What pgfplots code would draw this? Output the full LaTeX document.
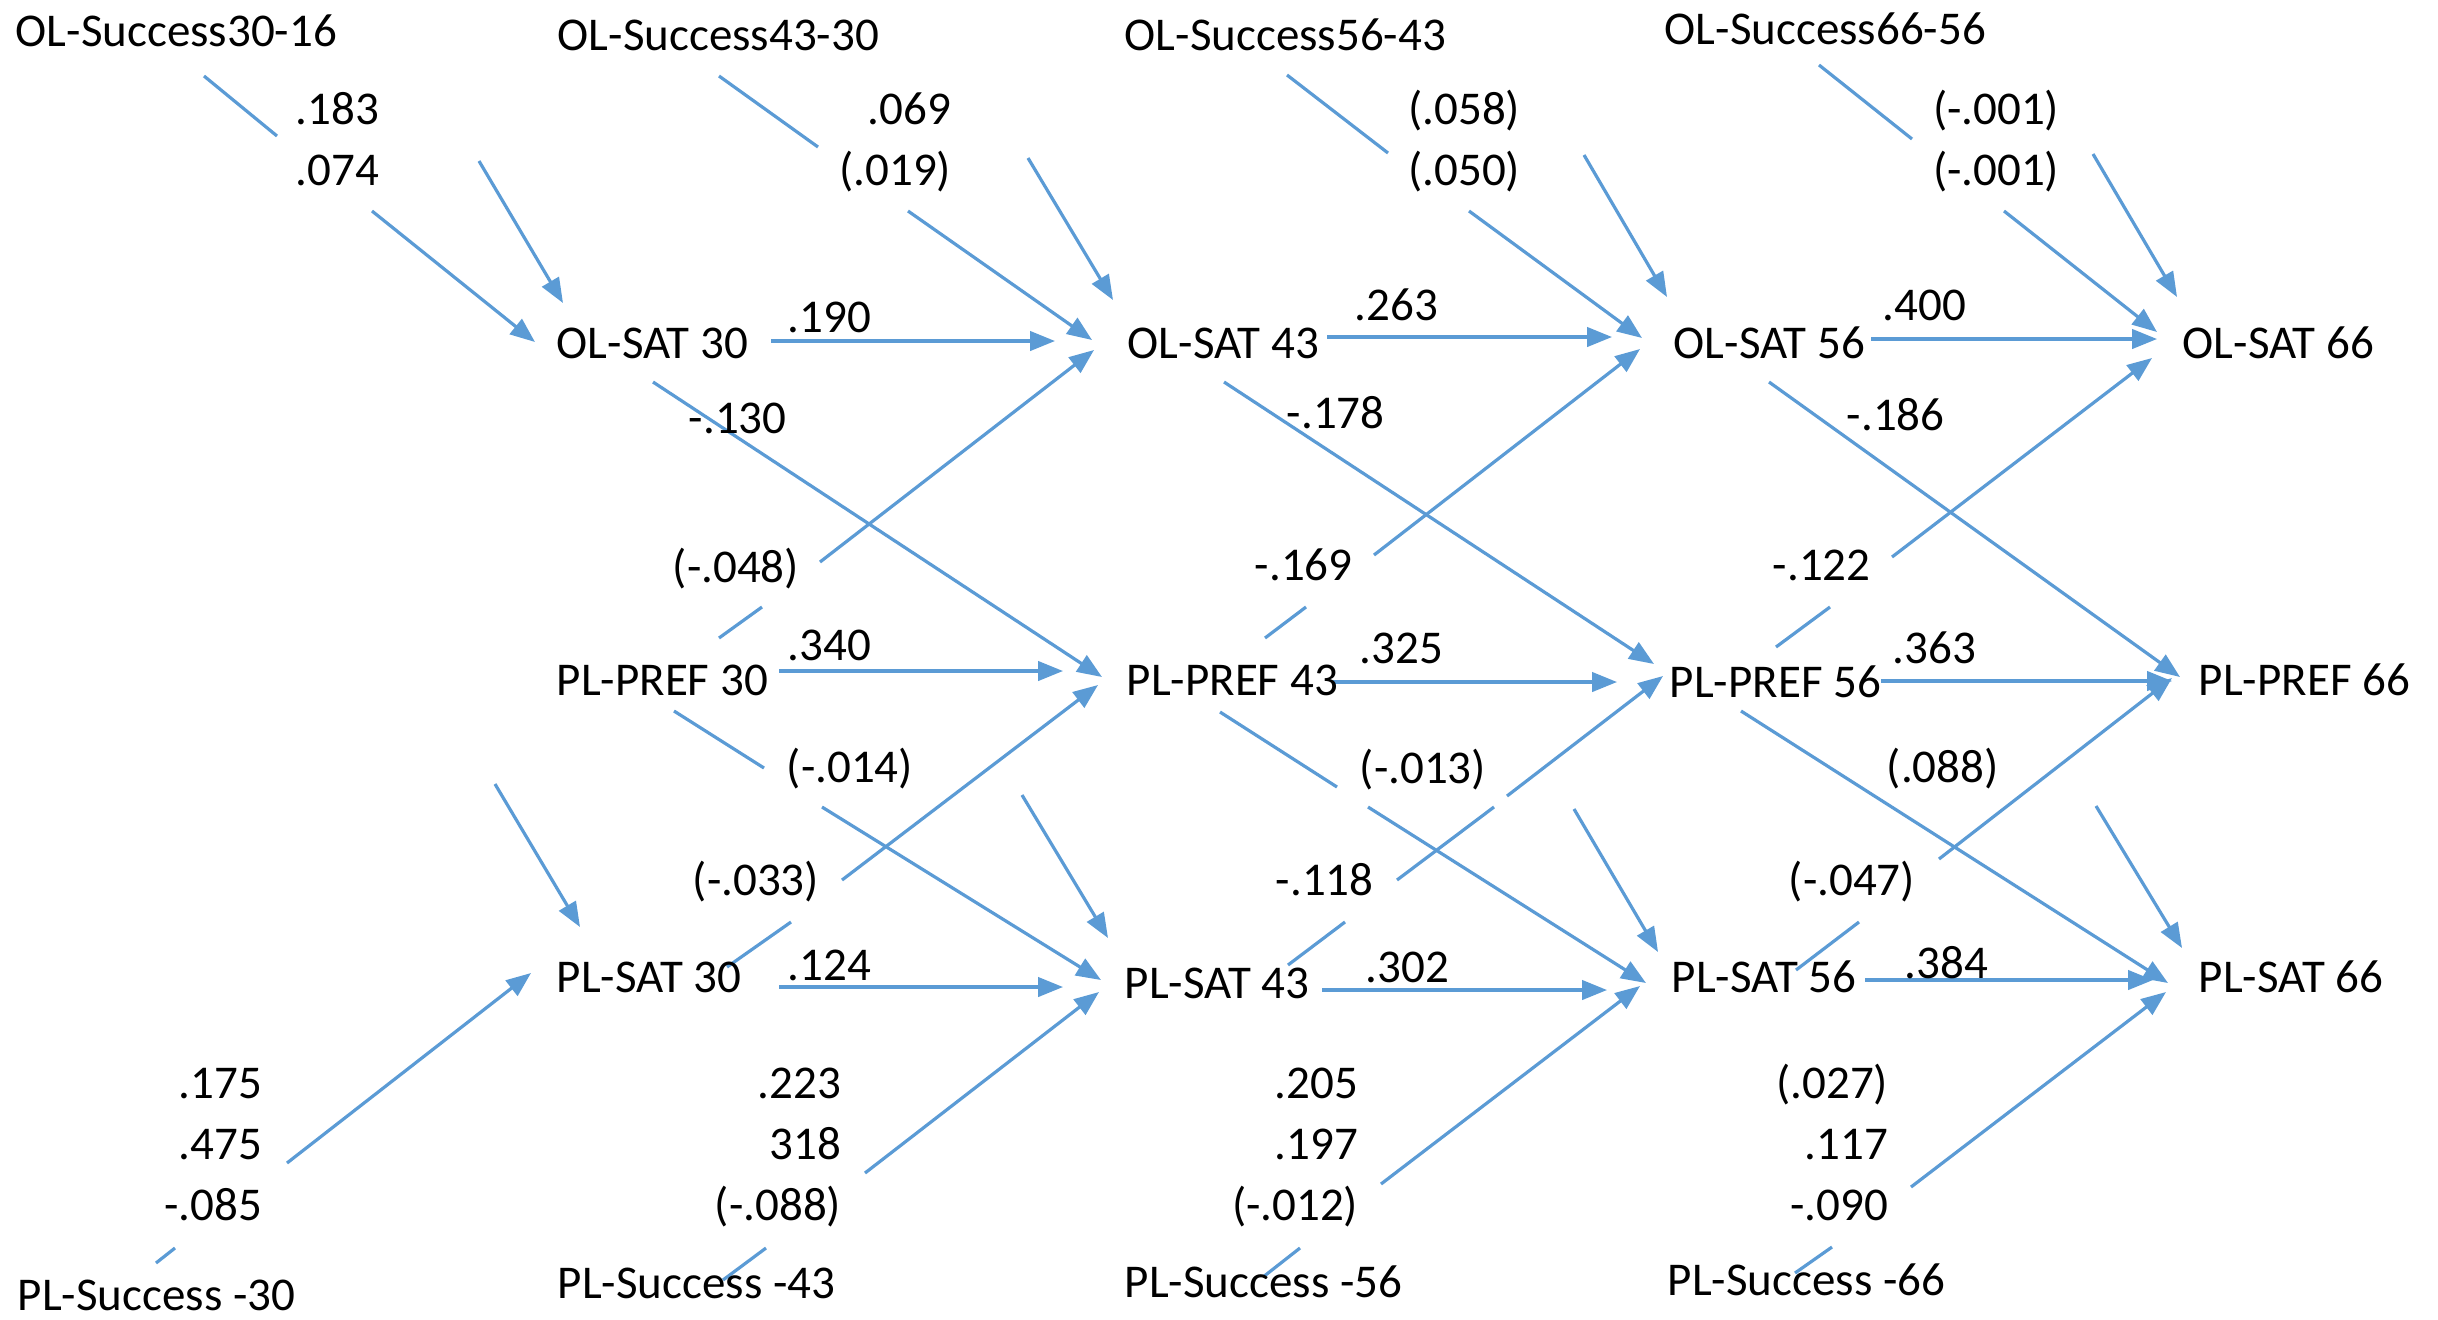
\documentclass[border=0pt]{standalone}
\usepackage{fontspec}
\setmainfont{Carlito}
\usepackage{pgfplots}
\pgfplotsset{compat=1.18}
\usetikzlibrary{arrows.meta}
\definecolor{pathblue}{HTML}{5B9BD5}
\newcommand{\seg}[4]{\addplot[pathblue, line width=0.8pt] coordinates {(#1,#2) (#3,#4)};}
\newcommand{\arr}[4]{\addplot[pathblue, line width=0.8pt, -{Triangle[length=6.2pt,width=4.8pt]}] coordinates {(#1,#2) (#3,#4)};}
\newcommand{\tl}[3]{\node[anchor=base west, inner sep=0pt, font=\fontsize{11.75}{14}\selectfont] at (axis cs:#1,#2) {#3};}
\newcommand{\tr}[3]{\node[anchor=base east, inner sep=0pt, font=\fontsize{11.75}{14}\selectfont] at (axis cs:#1,#2) {#3};}
\begin{document}
\begin{tikzpicture}
\begin{axis}[width=609.5pt, height=329.75pt, scale only axis, hide axis, clip=false,
  xmin=0, xmax=2438, ymin=0, ymax=1319, y dir=reverse]
% ---- lines from OL-Success to OL-SAT
\seg{204}{76}{277}{136}   \arr{372}{211}{535}{342}
\seg{719}{76}{818}{147}   \arr{908}{211}{1092}{340}
\seg{1287}{75}{1388}{153} \arr{1469}{211}{1642}{338}
\seg{1819}{65}{1912}{139} \arr{2004}{211}{2157}{332}
% ---- steep arrows into OL-SAT
\arr{479}{161}{563}{303}
\arr{1028}{158}{1113}{300}
\arr{1584}{155}{1667}{297}
\arr{2093}{154}{2177}{297}
% ---- horizontal OL-SAT row
\arr{771}{341}{1055}{341}
\arr{1327}{337}{1612}{337}
\arr{1871}{339}{2157}{339}
% ---- OL-SAT -> PL-PREF (next wave)
\arr{653}{382}{1102}{677}
\arr{1224}{382}{1654}{664}
\arr{1769}{382}{2180}{677}
% ---- PL-PREF -> OL-SAT (next wave)
\seg{719}{638}{762}{607}   \arr{820}{562}{1094}{350}
\seg{1265}{638}{1306}{607} \arr{1374}{555}{1640}{349}
\seg{1776}{647}{1830}{607} \arr{1892}{557}{2152}{358}
% ---- horizontal PL-PREF row
\arr{779}{671}{1063}{671}
\arr{1333}{682}{1617}{682}
\arr{1881}{681}{2172}{681}
% ---- PL-SAT -> PL-PREF (next wave)
\seg{727}{967}{791}{922}   \arr{842}{880}{1098}{685}
\seg{1288}{965}{1345}{922} \seg{1397}{880}{1494}{807} \arr{1507}{796}{1663}{676}
\seg{1796}{970}{1859}{922} \arr{1939}{859}{2172}{678}
% ---- PL-PREF -> PL-SAT (next wave)
\seg{674}{711}{764}{768}   \arr{822}{807}{1101}{980}
\seg{1220}{712}{1337}{787} \arr{1368}{807}{1646}{983}
\arr{1741}{711}{2168}{983}
% ---- steep arrows into PL-SAT
\arr{495}{784}{580}{927}
\arr{1022}{795}{1108}{938}
\arr{1574}{809}{1658}{952}
\arr{2096}{806}{2182}{948}
% ---- horizontal PL-SAT row
\arr{779}{987}{1063}{987}
\arr{1322}{990}{1607}{990}
\arr{1865}{980}{2153}{980}
% ---- PL-Success -> PL-SAT
\seg{156}{1263}{175}{1248}   \arr{287}{1163}{531}{973}
\seg{723}{1280}{766}{1248}   \arr{865}{1173}{1099}{992}
\seg{1263}{1277}{1300}{1248} \arr{1381}{1184}{1640}{986}
\seg{1795}{1273}{1832}{1247} \arr{1911}{1187}{2166}{992}
% ---- variable names
\tl{15}{46}{OL-Success30-16}
\tl{557}{50}{OL-Success43-30}
\tl{1124}{50}{OL-Success56-43}
\tl{1664}{44}{OL-Success66-56}
\tl{556}{358}{OL-SAT 30}
\tl{1127}{358}{OL-SAT 43}
\tl{1673}{358}{OL-SAT 56}
\tl{2182}{358}{OL-SAT 66}
\tl{556}{695}{PL-PREF 30}
\tl{1126}{695}{PL-PREF 43}
\tl{1669}{697}{PL-PREF 56}
\tl{2198}{695}{PL-PREF 66}
\tl{556}{992}{PL-SAT 30}
\tl{1124}{998}{PL-SAT 43}
\tl{1671}{992}{PL-SAT 56}
\tl{2198}{992}{PL-SAT 66}
\tl{17}{1310}{PL-Success -30}
\tl{557}{1298}{PL-Success -43}
\tl{1124}{1297}{PL-Success -56}
\tl{1667}{1295}{PL-Success -66}
% ---- coefficients, top
\tr{380}{124}{.183}   \tr{380}{185}{.074}
\tr{952}{124}{.069}   \tr{952}{185}{(.019)}
\tr{1521}{124}{(.058)} \tr{1521}{185}{(.050)}
\tr{2060}{124}{(-.001)} \tr{2060}{185}{(-.001)}
% ---- horizontal path coefficients
\tl{787}{332}{.190}  \tl{1354}{320}{.263} \tl{1882}{320}{.400}
\tl{787}{660}{.340}  \tl{1359}{663}{.325} \tl{1892}{663}{.363}
\tl{787}{980}{.124}  \tl{1365}{982}{.302} \tl{1904}{978}{.384}
% ---- cross-lagged coefficients
\tl{688}{433}{-.130}  \tl{1286}{428}{-.178} \tl{1846}{430}{-.186}
\tl{672}{582}{(-.048)} \tl{1254}{580}{-.169} \tl{1772}{580}{-.122}
\tl{786}{782}{(-.014)} \tl{1359}{783}{(-.013)} \tl{1886}{782}{(.088)}
\tl{692}{895}{(-.033)} \tl{1275}{895}{-.118} \tl{1788}{895}{(-.047)}
% ---- coefficients, bottom
\tr{263}{1098}{.175}  \tr{263}{1159}{.475}  \tr{263}{1220}{-.085}
\tr{842}{1098}{.223}  \tr{842}{1159}{318}   \tr{842}{1220}{(-.088)}
\tr{1359}{1098}{.205} \tr{1359}{1159}{.197} \tr{1359}{1220}{(-.012)}
\tr{1889}{1098}{(.027)} \tr{1889}{1159}{.117} \tr{1889}{1220}{-.090}
\end{axis}
\pgfresetboundingbox
\path (current axis.south west) rectangle (current axis.north east);
\end{tikzpicture}
\end{document}
